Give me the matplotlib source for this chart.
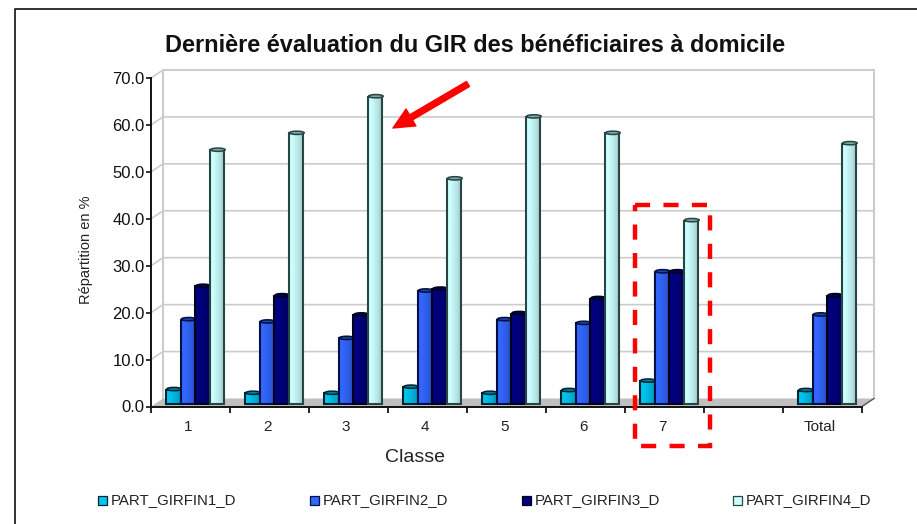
#!/usr/bin/env python3
import numpy as np
import matplotlib
matplotlib.use("Agg")
import matplotlib.pyplot as plt
from matplotlib.patches import Ellipse, Polygon, Rectangle

classes = ["1", "2", "3", "4", "5", "6", "7", "", "Total"]
series = ["PART_GIRFIN1_D", "PART_GIRFIN2_D", "PART_GIRFIN3_D", "PART_GIRFIN4_D"]
girfin1 = [3.6, 2.8, 2.8, 4.1, 2.8, 3.4, 5.4, None, 3.4]
girfin2 = [18.5, 18.0, 14.5, 24.6, 18.5, 17.7, 28.7, None, 19.5]
girfin3 = [25.6, 23.6, 19.5, 25.0, 19.8, 23.0, 28.7, None, 23.6]
girfin4 = [54.6, 58.2, 66.0, 48.5, 61.7, 58.2, 39.6, None, 56.0]
yticks = [0, 10, 20, 30, 40, 50, 60, 70]

colors = ["#00c4f0", "#3366ff", "#000080", "#ccffff"]
edges = ["#002530", "#001040", "#000018", "#284545"]

W, H = 917, 524
plt.rcParams["font.family"] = ["Liberation Sans", "DejaVu Sans"]
fig = plt.figure(figsize=(W / 100, H / 100), dpi=100)

# overlay in pixel coordinates for frame, arrow and dashed box
px = fig.add_axes([0, 0, 1, 1], zorder=5)
px.set_xlim(0, W)
px.set_ylim(H, 0)
px.axis("off")
px.patch.set_alpha(0)

ax = fig.add_axes([151 / W, 1 - 406.5 / H, 711 / W, 328.5 / H])
ax.set_xlim(0, 9)
ax.set_ylim(0, 70)
ax.patch.set_alpha(0)

dx = 12 / 79  # depth of the 3d box, data units
dy = 8 / 4.69

# back wall, side wall and floor
ax.add_patch(Polygon([(0, 0), (dx, dy), (9 + dx, dy), (9, 0)], fc="#c0c0c0", ec="none", clip_on=False, zorder=1))
ax.plot([dx, dx, 9 + dx, 9 + dx], [dy, 70 + dy, 70 + dy, dy], color="#cccccc", lw=1.5, clip_on=False, zorder=1)
for t in yticks[1:]:
    ax.plot([0, dx, 9 + dx], [t, t + dy, t + dy], color="#cccccc", lw=1.2, clip_on=False, zorder=1)
ax.plot([9, 9 + dx], [0, dy], color="#555555", lw=1, clip_on=False, zorder=1)

# cylinders, shaded with a horizontal gradient
shade = np.array([1.0, 1.0, 0.98, 0.95, 0.92, 0.88, 0.84, 0.78])
bar_w = 14.6 / 79
first = 15 / 79
base = 0.5
for k, vals in enumerate([girfin1, girfin2, girfin3, girfin4]):
    rgb = np.array(matplotlib.colors.to_rgb(colors[k]))
    img = (shade[:, None] * rgb)[None, :, :]
    for i, v in enumerate(vals):
        if v is None:
            continue
        x0 = i + first + k * bar_w
        z = 3 + k * 0.01
        ax.imshow(img, extent=[x0, x0 + bar_w, base, v], aspect="auto", interpolation="bilinear", zorder=z, clip_on=False)
        ax.add_patch(Rectangle((x0, base), bar_w, v - base, fc="none", ec=edges[k], lw=1.5, clip_on=False, zorder=z))
        ax.add_patch(Ellipse((x0 + bar_w / 2 + 0.01, v + 0.12), bar_w, 0.7, fc=rgb * 0.65, ec=edges[k], lw=1.1, clip_on=False, zorder=z + 0.001))
ax.set_xlim(0, 9)
ax.set_ylim(0, 70)

for s in ["top", "right"]:
    ax.spines[s].set_visible(False)
for s in ["left", "bottom"]:
    ax.spines[s].set_linewidth(1.4)
    ax.spines[s].set_color("#111111")
    ax.spines[s].set_zorder(4)
ax.set_xticks(range(10))
ax.set_xticklabels([])
ax.set_xticks(np.arange(9) + 0.47, classes, minor=True)
ax.tick_params(axis="x", which="major", length=4.5, width=1.2, direction="out")
ax.tick_params(axis="x", which="minor", length=0, labelsize=11, pad=9.5, colors="#222222")
ax.set_yticks(yticks, [f"{t:.1f}" for t in yticks])
ax.tick_params(axis="y", length=3.5, width=1.2, labelsize=12, pad=1, colors="#111111")
ax.set_xlabel("Classe", fontsize=14, color="#222222")
ax.xaxis.set_label_coords(264 / 711, -42 / 328.5)
ax.set_ylabel("Répartition en %", fontsize=10.5, color="#222222")
ax.yaxis.set_label_coords(-58 / 711, 0.5 - 7 / 328.5)

px.text(475, 45.5, "Dernière évaluation du GIR des bénéficiaires à domicile", fontsize=16.9, fontweight="bold", ha="center", va="center", color="#111111")

# outer frame of the screenshot, open on the right
px.plot([15, 15, W], [H, 9, 9], color="#111111", lw=1.2)

# legend
for x, label, c, e in zip([98, 310, 522, 733], series, colors, edges):
    px.add_patch(Rectangle((x, 496), 9, 9, fc=c, ec=e, lw=0.9))
    px.text(x + 13, 500.5, label, fontsize=10.8, va="center", ha="left", color="#222222")

# red annotations
px.annotate("", xy=(393, 128), xytext=(468, 84),
            arrowprops=dict(width=4.2, headwidth=14, headlength=15, color="#ff0000", shrink=0))
px.add_patch(Rectangle((635, 205), 75, 241, fc="none", ec="#ff0000", lw=3.2, ls=(0, (3.4, 3.0))))

fig.savefig("out.png", dpi=100)
print("wrote out.png")
